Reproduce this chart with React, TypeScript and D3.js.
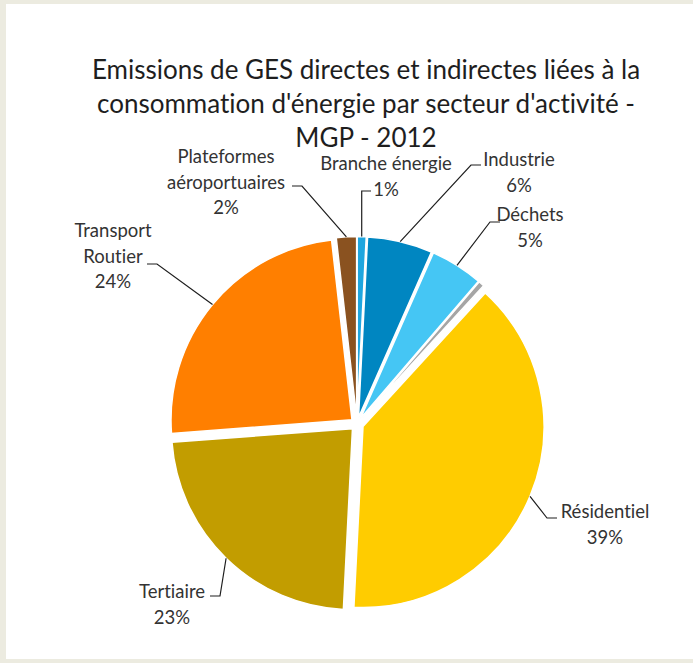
import React from "react";
import * as d3 from "d3";

const categories = [
  "Branche énergie",
  "Industrie",
  "Déchets",
  "Autres",
  "Résidentiel",
  "Tertiaire",
  "Transport Routier",
  "Plateformes aéroportuaires",
];
const values = [0.8, 5.8, 4.7, 0.5, 39.0, 23.0, 24.4, 1.8];
const colors = ["#1fa6df", "#0086c1", "#45c6f4", "#a5a5a5", "#ffcc00", "#c29d00", "#ff7f00", "#8a5220"];
const labelLines = [
  ["Branche énergie"],
  ["Industrie"],
  ["Déchets"],
  null,
  ["Résidentiel"],
  ["Tertiaire"],
  ["Transport", "Routier"],
  ["Plateformes", "aéroportuaires"],
];
const titleLines = [
  "Emissions de GES directes et indirectes liées à la",
  "consommation d'énergie par secteur d'activité -",
  "MGP - 2012",
];

// layout (relative to pie centre): text centre x, first baseline y, leader end x,y, elbow direction
const labelLayout = [
  { tx: 29, ty: -254, ex: 14, ey: -233, dir: -1, inline: true },
  { tx: 162, ty: -258, ex: 124, ey: -259, dir: -1 },
  { tx: 173, ty: -203, ex: 143, ey: -202, dir: -1 },
  null,
  { tx: 248, ty: 94, ex: 200, ey: 94, dir: -1 },
  { tx: -185, ty: 174, ex: -147, ey: 172, dir: 1 },
  { tx: -244, ty: -187, ex: -210, ey: -160, dir: 1 },
  { tx: -131, ty: -261, ex: -65, ey: -238, dir: 1 },
];

const W = 693;
const H = 663;
const cx = 357;
const cy = 424;
const R = 181;
const explode = 6.5;
const FONT = "Lato, 'Open Sans', sans-serif";

export default function App() {
  const pie = d3.pie<number>().sort(null).value((v) => v)(values);
  const arc = d3.arc<d3.PieArcDatum<number>>().innerRadius(0).outerRadius(R);
  const fmt = (v: number) => `${Math.round(v)}%`;

  return (
    <svg
      width={W}
      height={H}
      style={{ position: "absolute", left: 0, top: 0, fontVariantLigatures: "none" }}
    >
      <rect x={0} y={0} width={W} height={H} fill="#ecebe0" />
      <rect x={6} y={4} width={W - 6} height={655} fill="#ffffff" />
      <g fontFamily={FONT}>
        {titleLines.map((t, i) => (
          <text key={i} x={366} y={79 + i * 34} textAnchor="middle" fontSize={26} fill="#1e1e1e">
            {t}
          </text>
        ))}
      </g>
      <g transform={`translate(${cx},${cy})`}>
        {pie.map((p, i) => {
          const mid = (p.startAngle + p.endAngle) / 2;
          const ox = explode * Math.sin(mid);
          const oy = -explode * Math.cos(mid);
          return (
            <path
              key={i}
              d={arc(p) || ""}
              transform={`translate(${ox},${oy})`}
              fill={colors[i]}
              stroke="#ffffff"
              strokeWidth={1.5}
            />
          );
        })}
        {pie.map((p, i) => {
          const lay = labelLayout[i];
          const lines = labelLines[i];
          if (!lay || !lines) return null;
          const mid = (p.startAngle + p.endAngle) / 2;
          const rr = R + explode;
          const sx = rr * Math.sin(mid);
          const sy = -rr * Math.cos(mid);
          const elbowX = lay.ex + lay.dir * 10;
          const allLines = [...lines, fmt(values[i])];
          return (
            <g key={"l" + i}>
              <polyline
                points={`${sx},${sy} ${lay.inline ? sx : elbowX},${lay.ey} ${lay.ex},${lay.ey}`}
                fill="none"
                stroke="#1e1e1e"
                strokeWidth={1.2}
              />
              {allLines.map((t, j) => (
                <text
                  key={j}
                  x={lay.tx}
                  y={lay.ty + j * 25.5}
                  textAnchor="middle"
                  fontSize={18.5}
                  fontFamily={FONT}
                  fill="#333333"
                >
                  {t}
                </text>
              ))}
            </g>
          );
        })}
      </g>
    </svg>
  );
}
